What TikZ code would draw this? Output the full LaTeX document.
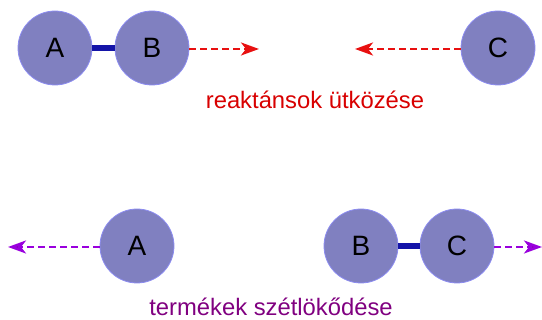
\documentclass[tikz,border=0pt]{standalone}
\usepackage{fontspec}
\setmainfont{Liberation Sans}
\usetikzlibrary{arrows.meta}
\definecolor{atomfill}{HTML}{8080C0}
\definecolor{atomedge}{HTML}{8C8CF0}
\definecolor{bondcol}{HTML}{1414A8}
\definecolor{redcol}{HTML}{E81010}
\definecolor{redtext}{HTML}{D80000}
\definecolor{purpcol}{HTML}{9900DD}
\definecolor{purptext}{HTML}{800080}
\begin{document}
\begin{tikzpicture}[x=1pt,y=1pt,
  atom/.style={circle,fill=atomfill,draw=atomedge,line width=0.8pt,minimum size=74pt,inner sep=0pt,font=\fontsize{28}{32}\selectfont},
  bond/.style={draw=bondcol,line width=6.5pt},
  redarr/.style={draw=redcol,line width=2.6pt,dash pattern=on 7pt off 4pt,-{Stealth[length=18pt,width=13pt,inset=5pt]}},
  purparr/.style={draw=purpcol,line width=2.6pt,dash pattern=on 7pt off 4pt,-{Stealth[length=18pt,width=13pt,inset=5pt,fill=purptext!70!purpcol]}},
  lbl/.style={font=\fontsize{23.8}{28}\selectfont,anchor=base}]
\useasboundingbox (0,0) rectangle (542,320);
% top row
\node[atom] (A1) at (55,272) {A};
\node[atom] (B1) at (152,272) {B};
\node[atom] (C1) at (498,272) {C};
\coordinate (t1) at (259,271);
\coordinate (t2) at (355,271);
\draw[bond] (A1) -- (B1);
\draw[redarr] (B1.east |- t1) -- (t1);
\draw[redarr] (C1.west |- t2) -- (t2);
\node[lbl,text=redtext] (L1) at (315,211) {reaktánsok ütközése};
% bottom row
\node[atom] (A2) at (137,74) {A};
\node[atom] (B2) at (361,74) {B};
\node[atom] (C2) at (457,74) {C};
\coordinate (t3) at (8,73);
\coordinate (t4) at (542,73);
\draw[bond] (B2) -- (C2);
\draw[purparr] (A2.west |- t3) -- (t3);
\draw[purparr] (C2.east |- t4) -- (t4);
\node[lbl,text=purptext] (L2) at (271,4) {termékek szétlökődése};
\end{tikzpicture}
\end{document}
